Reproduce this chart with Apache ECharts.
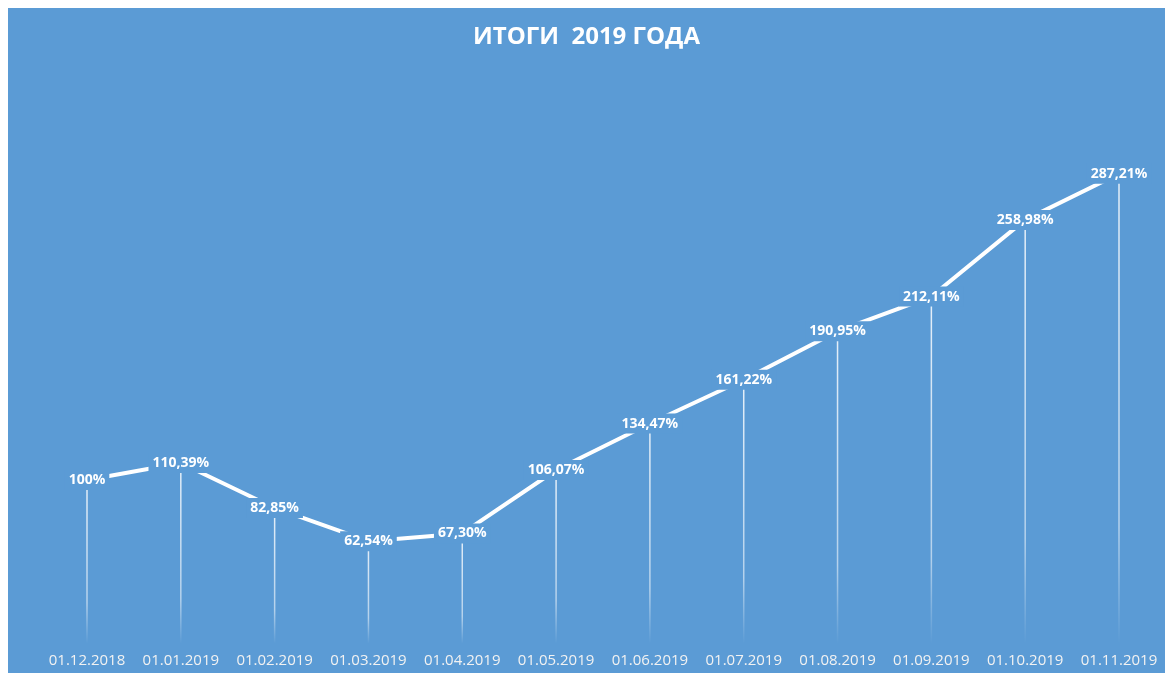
<!DOCTYPE html>
<html>
<head>
<meta charset="utf-8">
<title>Итоги 2019 года</title>
<script src="https://cdn.jsdelivr.net/npm/echarts@6/dist/echarts.min.js"></script>
<style>
    html, body { margin: 0; padding: 0; background: #ffffff; }
    #main { position: absolute; left: 8px; top: 8px; width: 1157px; height: 665px; }
</style>
</head>
<body>
<div id="main"></div>
<script>
    'use strict';

    var titleText = 'ИТОГИ  2019 ГОДА';
    var dates = ['01.12.2018', '01.01.2019', '01.02.2019', '01.03.2019', '01.04.2019', '01.05.2019',
        '01.06.2019', '01.07.2019', '01.08.2019', '01.09.2019', '01.10.2019', '01.11.2019'];
    var values = [100, 110.39, 82.85, 62.54, 67.30, 106.07, 134.47, 161.22, 190.95, 212.11, 258.98, 287.21];

    var bg = '#5B9BD5';

    var fmt = function(v) {
        // 100 -> "100%", 110.39 -> "110,39%"
        if (Math.round(v) === v) {
            return v + '%';
        }
        return v.toFixed(2).replace('.', ',') + '%';
    };

    var myChart = echarts.init(document.getElementById('main'));

    myChart.setOption({
        backgroundColor: bg,
        animation: false,
        title: {
            text: titleText,
            left: 'center',
            top: 12,
            textStyle: {
                color: '#ffffff',
                fontFamily: 'Open Sans',
                fontWeight: 'bold',
                fontSize: 24
            }
        },
        grid: {
            left: 79,
            right: 46,
            top: 63,
            bottom: 29.5
        },
        xAxis: {
            type: 'category',
            data: dates,
            boundaryGap: false,
            axisLine: { show: false },
            axisTick: { show: false },
            splitLine: { show: false },
            axisLabel: {
                interval: 0,
                color: '#f2f2f2',
                fontFamily: 'Open Sans',
                fontSize: 15,
                margin: 10
            }
        },
        yAxis: {
            type: 'value',
            min: 0,
            max: 350,
            show: false
        },
        series: [
            {
                // вертикальные линии от точек вниз
                type: 'bar',
                data: values,
                barWidth: 1.5,
                z: 1,
                silent: true,
                itemStyle: {
                    color: new echarts.graphic.LinearGradient(0, 0, 0, 1, [
                        { offset: 0, color: 'rgba(255,255,255,0.85)' },
                        { offset: 0.75, color: 'rgba(255,255,255,0.55)' },
                        { offset: 1, color: 'rgba(255,255,255,0)' }
                    ])
                }
            },
            {
                type: 'line',
                data: values,
                z: 3,
                symbol: 'circle',
                symbolSize: 1,
                itemStyle: { color: '#ffffff' },
                lineStyle: { color: '#ffffff', width: 4 },
                label: {
                    show: true,
                    position: 'inside',
                    formatter: function(p) { return fmt(p.value); },
                    color: '#ffffff',
                    fontFamily: 'Open Sans',
                    fontWeight: 'bold',
                    fontSize: 14,
                    backgroundColor: bg,
                    padding: [3, 4]
                }
            }
        ]
    });
</script>
</body>
</html>
